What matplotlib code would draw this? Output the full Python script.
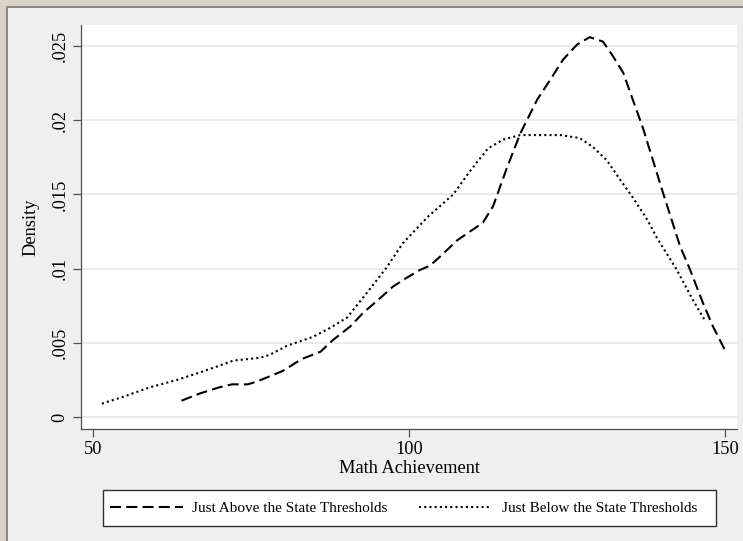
import matplotlib
matplotlib.use("Agg")
import matplotlib.pyplot as plt
from matplotlib.patches import Rectangle

# ---- data ----
above_x = [64, 67, 70, 72, 74.5, 76, 80, 83, 86, 88, 90.7, 92.7, 95.4, 97.5, 99.7,
           101.7, 103.3, 104.9, 107.6, 110, 111.7, 113.3, 115.5, 117.6, 120.3, 122.3,
           124.4, 126.6, 128.6, 130.7, 132.3, 133.9, 135.4, 137, 138.6, 140.2, 142.9,
           144.5, 146.5, 148.1, 150]
above_y = [0.0011, 0.0016, 0.0020, 0.0022, 0.0022, 0.0024, 0.0031, 0.0039, 0.0044,
           0.0052, 0.0061, 0.0070, 0.0080, 0.0088, 0.0094, 0.0099, 0.0102, 0.0108,
           0.0119, 0.0126, 0.0131, 0.0142, 0.0168, 0.0191, 0.0214, 0.0227, 0.0241,
           0.0251, 0.0256, 0.0253, 0.0243, 0.0232, 0.0214, 0.0195, 0.0173, 0.0151,
           0.0115, 0.0099, 0.0077, 0.0061, 0.0045]

below_x = [51.4, 54.7, 59, 63.3, 66.9, 69.6, 72.2, 74.4, 76.5, 78, 80.7, 84.8, 87.5,
           90.2, 93.4, 96.5, 99, 103, 107, 109.7, 112.5, 114.9, 117.6, 122, 124, 127,
           129.1, 131.3, 133.4, 135.4, 137.7, 139.2, 142.4, 144.9, 146.7]
below_y = [0.0009, 0.00135, 0.0020, 0.0025, 0.0030, 0.0034, 0.0038, 0.0039, 0.0040,
           0.0042, 0.0048, 0.0054, 0.0060, 0.0067, 0.0084, 0.0101, 0.0117, 0.0135,
           0.0150, 0.0166, 0.0181, 0.0187, 0.0190, 0.0190, 0.0190, 0.0188, 0.0182,
           0.0173, 0.0160, 0.0148, 0.0133, 0.0121, 0.0099, 0.0079, 0.0066]

x_ticks = [50, 100, 150]
y_ticks = [0, 0.005, 0.01, 0.015, 0.02, 0.025]
y_tick_labels = ["0", ".005", ".01", ".015", ".02", ".025"]
series_labels = ["Just Above the State Thresholds", "Just Below the State Thresholds"]
x_title = "Math Achievement"
y_title = "Density"

W, H = 743, 541
plt.rcParams['font.family'] = ['Liberation Serif', 'DejaVu Serif']

fig = plt.figure(figsize=(W / 100, H / 100), dpi=100)
fig.patch.set_facecolor('#d8d4c8')
# inner light-gray panel with a dark top/left edge
fig.add_artist(Rectangle((6 / W, 0), 1, 1 - 6 / H, transform=fig.transFigure,
                         facecolor='#8c8a84', edgecolor='none', zorder=-10))
fig.add_artist(Rectangle((8 / W, 0), 1, 1 - 8 / H, transform=fig.transFigure,
                         facecolor='#efefef', edgecolor='none', zorder=-9))

ax = fig.add_axes([81 / W, 1 - 429 / H, (737 - 81) / W, (429 - 25) / H])
ax.set_facecolor('white')

ax.plot(above_x, above_y, color='black', lw=1.5, linestyle=(0, (5.3, 2.5)),
        label=series_labels[0])
ax.plot(below_x, below_y, color='black', lw=1.5, linestyle=(0, (1, 1.5)),
        label=series_labels[1])

ax.set_xlim(48.1, 151.9)
ax.set_ylim(-0.00081, 0.02642)
ax.set_xticks(x_ticks)
ax.set_yticks(y_ticks)
ax.set_yticklabels(y_tick_labels, rotation=90, va='center')
ax.grid(axis='y', color='#e8e8e8', lw=1.3)
ax.set_axisbelow(True)
for s in ['top', 'right']:
    ax.spines[s].set_visible(False)
for s in ['left', 'bottom']:
    ax.spines[s].set_color('#505050')
    ax.spines[s].set_linewidth(0.9)
ax.tick_params(axis='both', length=6, width=0.9, color='#505050',
               labelsize=13.2, pad=3)
ax.set_xlabel(x_title, fontsize=13.2, labelpad=1)
ax.set_ylabel(y_title, fontsize=13.2, labelpad=9)

# legend frame box
fig.add_artist(Rectangle((103 / W, 1 - 526 / H), (716 - 103) / W, 36 / H,
                         transform=fig.transFigure, facecolor='white',
                         edgecolor='#303030', lw=1.0, zorder=4))
leg = fig.legend(loc='center left', ncol=2, mode='expand',
                 bbox_to_anchor=(110 / W, 1 - 526 / H, (697 - 110) / W, 36 / H),
                 borderaxespad=0, borderpad=0, fontsize=11, handlelength=4.8,
                 handletextpad=0.6, frameon=False)
leg.set_zorder(5)

fig.savefig('out.png', dpi=100, facecolor=fig.get_facecolor())
